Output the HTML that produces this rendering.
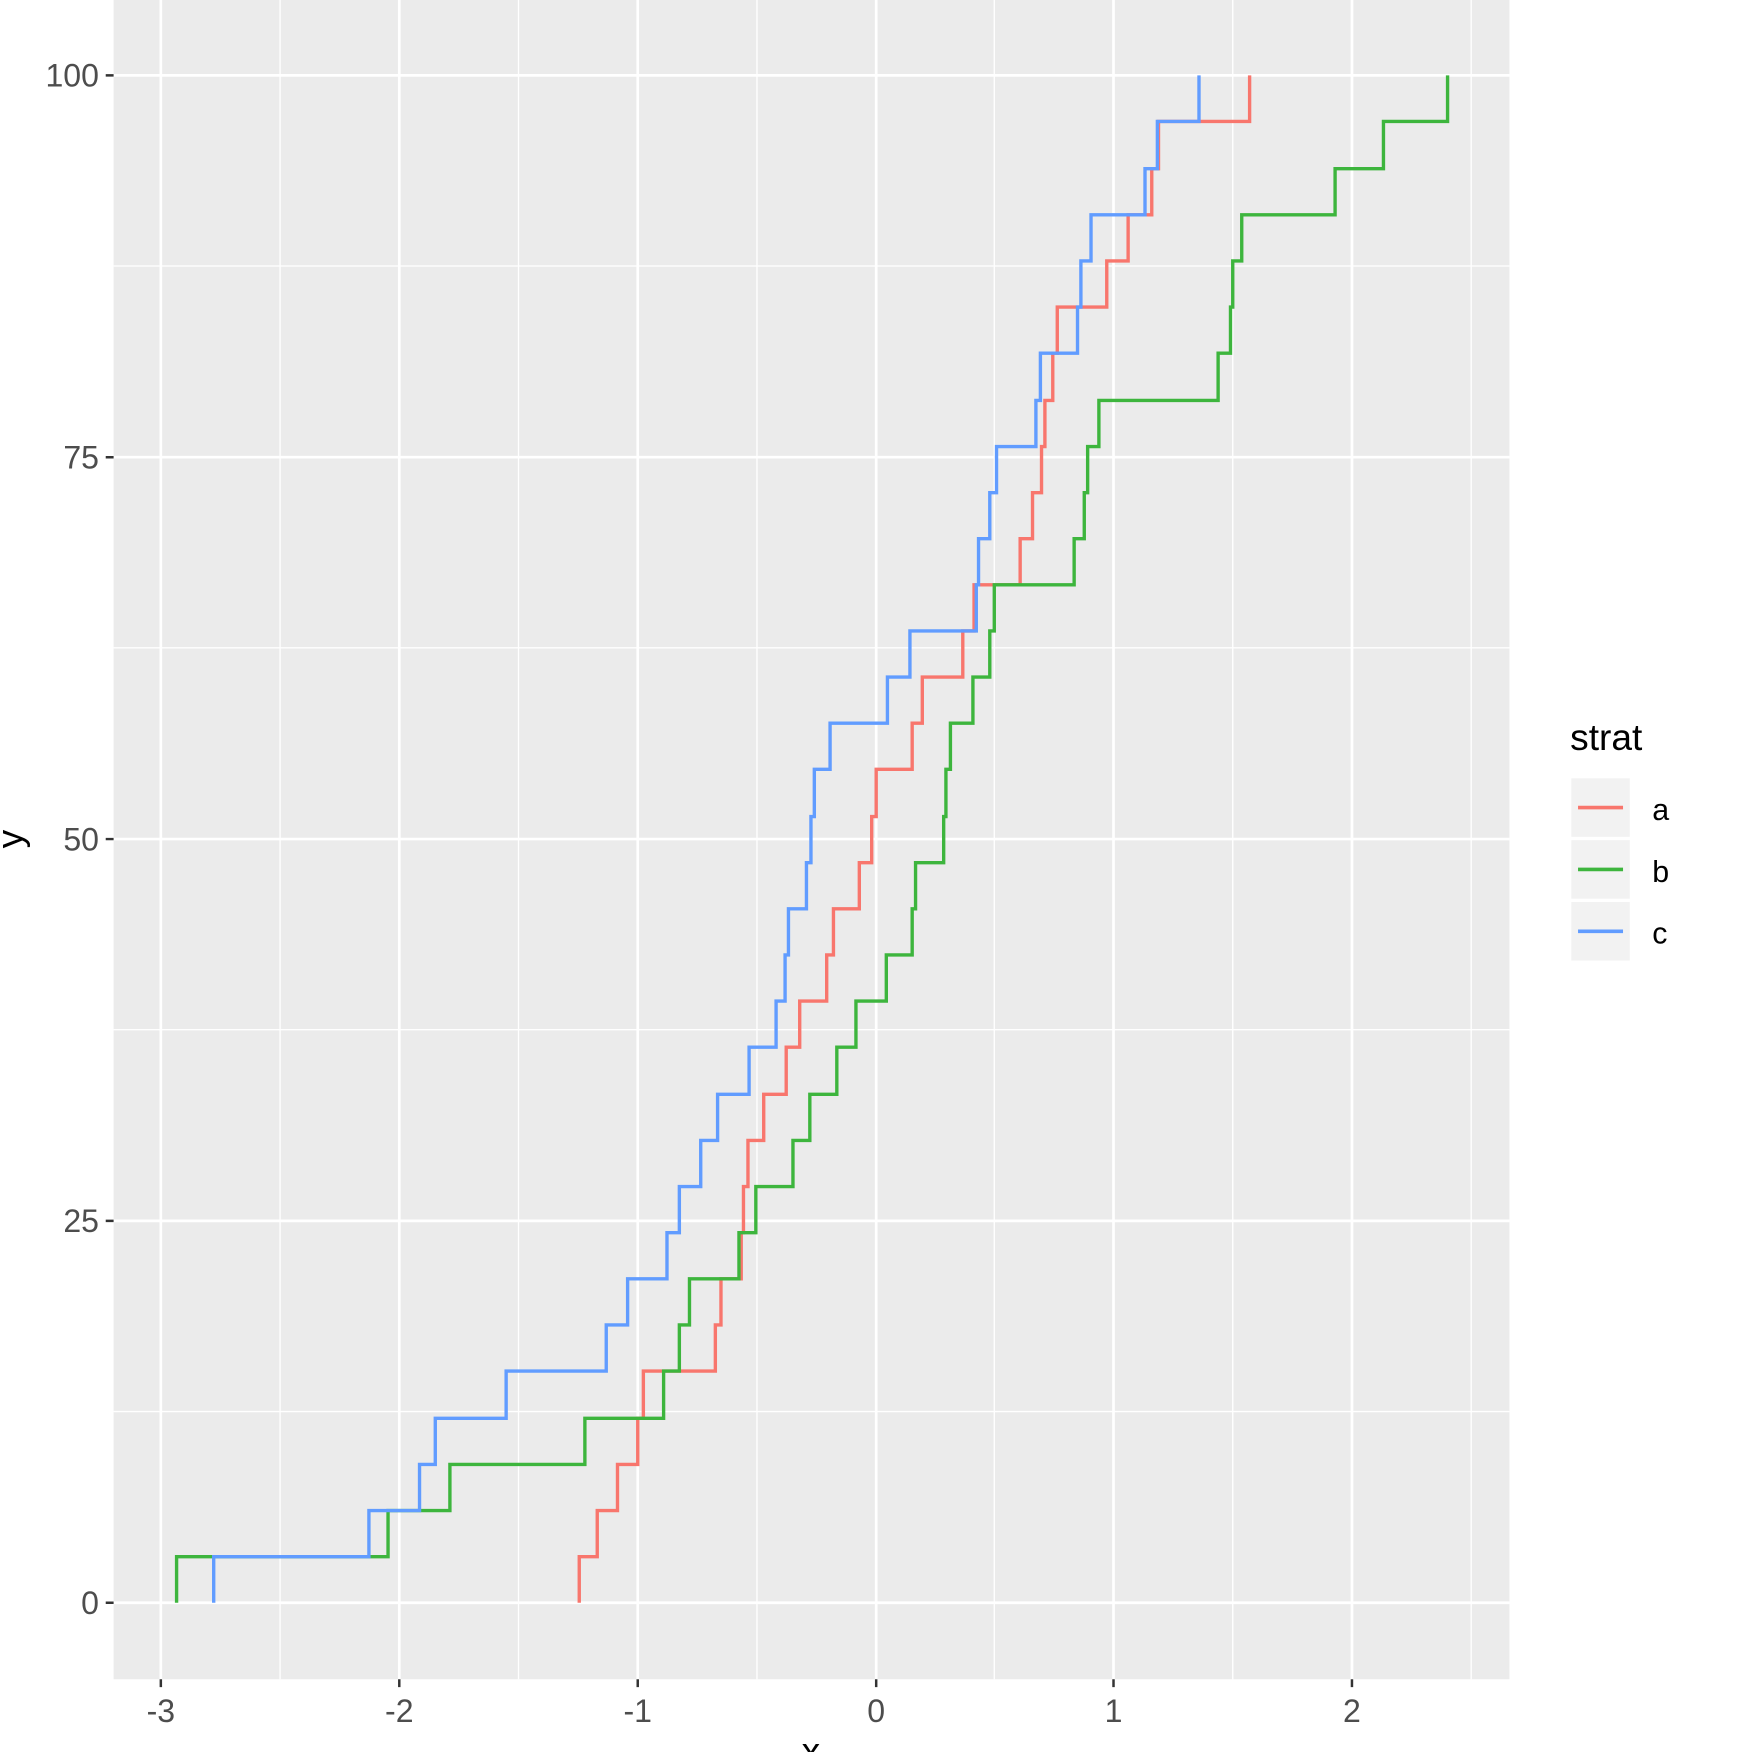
<!DOCTYPE html>
<html><head><meta charset="utf-8"><style>html,body{margin:0;padding:0;background:#fff}svg{display:block}</style></head>
<body>
<svg width="1758" height="1752" viewBox="0 0 1563 1557.7" preserveAspectRatio="none" xmlns="http://www.w3.org/2000/svg" font-family="Liberation Sans, sans-serif">
<rect x="0" y="0" width="1568" height="1563" fill="#fff"/>
<rect x="101" y="0" width="1241" height="1493" fill="#EBEBEB"/>
<g stroke="#fff" stroke-width="1.2" fill="none">
<path d="M249 0V1493M461 0V1493M673 0V1493M884 0V1493M1096 0V1493M1308 0V1493"/>
<path d="M101 1255H1342M101 915.5H1342M101 576H1342M101 236.5H1342"/>
</g>
<g stroke="#fff" stroke-width="2.4" fill="none">
<path d="M143 0V1493M355 0V1493M567 0V1493M779 0V1493M990 0V1493M1202 0V1493"/>
<path d="M101 1425H1342M101 1085.5H1342M101 746H1342M101 406.5H1342M101 67H1342"/>
</g>
<g stroke="#333" stroke-width="2.2">
<path d="M94 1425H101M94 1085.5H101M94 746H101M94 406.5H101M94 67H101"/>
<path d="M143 1493V1500M355 1493V1500M567 1493V1500M779 1493V1500M990 1493V1500M1202 1493V1500"/>
</g>
<g fill="#4D4D4D" font-size="28.5" text-anchor="end">
<text x="88" y="1435">0</text><text x="88" y="1095.5">25</text><text x="88" y="756">50</text><text x="88" y="416.5">75</text><text x="88" y="77">100</text>
</g>
<g fill="#4D4D4D" font-size="28.5" text-anchor="middle">
<text x="143" y="1531">-3</text><text x="355" y="1531">-2</text><text x="567" y="1531">-1</text><text x="779" y="1531">0</text><text x="990" y="1531">1</text><text x="1202" y="1531">2</text>
</g>
<text x="721" y="1568" font-size="33" text-anchor="middle" fill="#000">x</text>
<text transform="translate(20,746) rotate(-90)" font-size="33" text-anchor="middle" fill="#000">y</text>
<g fill="none" stroke-width="3">
<path stroke="#F8766D" d="M515 1425V1384H531V1343H549V1302H567V1261H572V1219H636V1178H641V1137H659V1096H661V1055H665V1014H679V973H699V931H711V890H735V849H741V808H764V767H775V726H779V684H811V643H820V602H856V561H866V520H907V479H918V438H926V397H929V356H936V314H940V273H984V232H1003V191H1024V150H1030V108H1111V67"/>
<path stroke="#3DB53D" d="M157 1425V1384H345V1343H400V1302H520V1261H590V1219H604V1178H613V1137H657V1096H672V1055H705V1014H720V973H744V931H761V890H788V849H811V808H814V767H839V726H841V684H845V643H865V602H880V561H884V520H955V479H964V438H967V397H977V356H1083V314H1094V273H1096V232H1104V191H1187V150H1230V108H1287V67"/>
<path stroke="#619CFF" d="M190 1425V1384H328V1343H373V1302H387V1261H450V1219H539V1178H558V1137H593V1096H604V1055H623V1014H638V973H666V931H690V890H698V849H701V808H717V767H721V726H724V684H738V643H789V602H809V561H868V520H870V479H880V438H886V397H921V356H925V314H958V273H961V232H970V191H1018V150H1029V108H1066V67"/>
</g>
<text x="1396" y="667" font-size="33" fill="#000">strat</text>
<rect x="1397" y="692" width="52" height="52" fill="#F2F2F2"/>
<rect x="1397" y="747" width="52" height="52" fill="#F2F2F2"/>
<rect x="1397" y="802" width="52" height="52" fill="#F2F2F2"/>
<g stroke-width="3.2">
<path stroke="#F8766D" d="M1403 718H1443"/>
<path stroke="#3DB53D" d="M1403 773H1443"/>
<path stroke="#619CFF" d="M1403 828H1443"/>
</g>
<g font-size="27" fill="#000">
<text x="1469" y="729">a</text><text x="1469" y="784">b</text><text x="1469" y="839">c</text>
</g>
</svg>
</body></html>
